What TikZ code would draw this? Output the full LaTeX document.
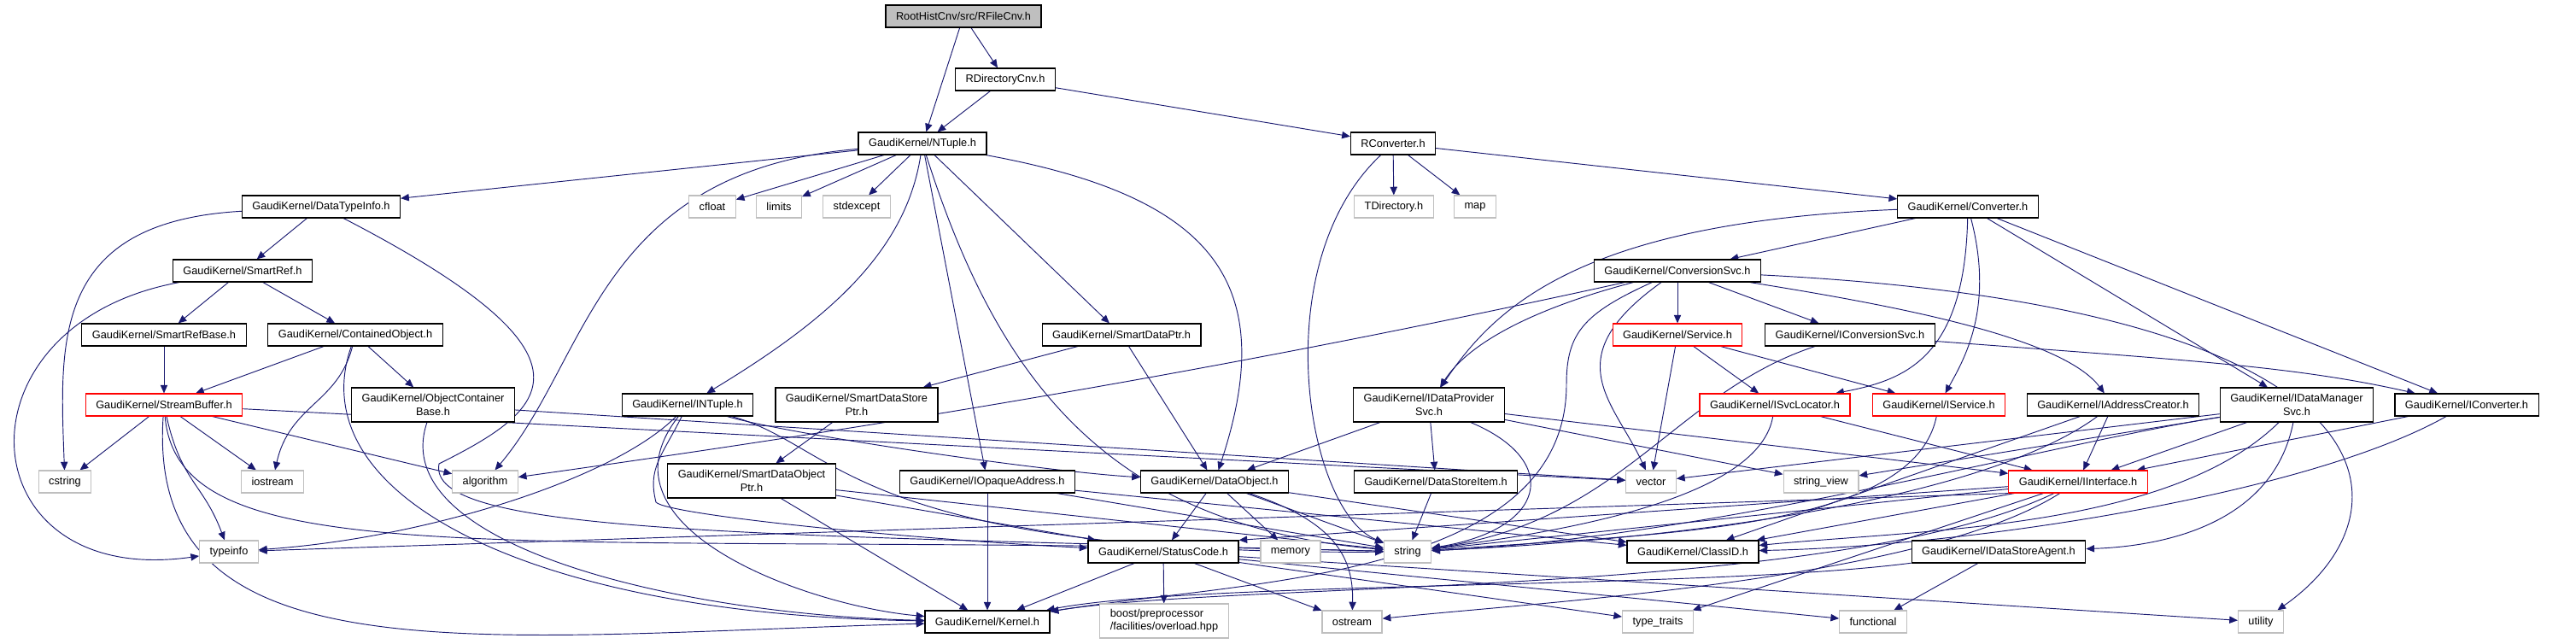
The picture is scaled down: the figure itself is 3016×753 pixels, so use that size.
\documentclass[tikz,border=0pt]{standalone}
\usepackage{fontspec}
\setmainfont{Liberation Sans}
\usepackage{tikz}
\usetikzlibrary{arrows.meta,backgrounds}
\definecolor{edgeblue}{RGB}{25,25,112}
\definecolor{sysgray}{RGB}{191,191,191}

\begin{document}
\begin{tikzpicture}[x=0.03cm, y=-0.03cm, align=center,
    font=\fontsize{10.9}{13}\selectfont,
    >={Triangle[length=2.9mm,width=2.5mm]},
    hdr/.style={draw=black, line width=1pt, fill=white, minimum height=0.78cm, inner xsep=0.36cm, inner ysep=0pt},
    tall/.style={minimum height=1.2cm},
    redhdr/.style={hdr, draw=red},
    syshdr/.style={hdr, draw=sysgray},
    roothdr/.style={hdr, fill=sysgray},
    inc/.style={->, edgeblue, line width=0.8pt}]
    \path[use as bounding box] (0,0) rectangle (3016,753);

    \node [roothdr] (rfilecnv) at (1128,19) {RootHistCnv/src/RFileCnv.h};
    \node [hdr] (rdircnv) at (1177,93) {RDirectoryCnv.h};
    \node [hdr] (ntuple) at (1080,168) {GaudiKernel/NTuple.h};
    \node [hdr] (rconverter) at (1631,168) {RConverter.h};

    \node [hdr] (dtinfo) at (376,242) {GaudiKernel/DataTypeInfo.h};
    \node [syshdr] (cfloat) at (834,242) {cfloat};
    \node [syshdr] (limits) at (912,242) {limits};
    \node [syshdr] (stdexcept) at (1003,242) {stdexcept};
    \node [syshdr] (tdir) at (1632,242) {TDirectory.h};
    \node [syshdr] (map) at (1727,242) {map};
    \node [hdr] (converter) at (2304,242) {GaudiKernel/Converter.h};

    \node [hdr] (smartref) at (284,317) {GaudiKernel/SmartRef.h};
    \node [hdr] (convsvc) at (1964,317) {GaudiKernel/ConversionSvc.h};

    \node [hdr] (smartrefbase) at (192,392) {GaudiKernel/SmartRefBase.h};
    \node [hdr] (contained) at (416,392) {GaudiKernel/ContainedObject.h};
    \node [hdr] (smartdataptr) at (1313,392) {GaudiKernel/SmartDataPtr.h};
    \node [redhdr] (service) at (1964,392) {GaudiKernel/Service.h};
    \node [hdr] (iconvsvc) at (2166,392) {GaudiKernel/IConversionSvc.h};

    \node [redhdr] (streambuf) at (192,474) {GaudiKernel/StreamBuffer.h};
    \node [hdr, tall] (objcont) at (507,474) {GaudiKernel/ObjectContainer\\Base.h};
    \node [hdr] (intuple) at (805,474) {GaudiKernel/INTuple.h};
    \node [hdr, tall] (sdstoreptr) at (1003,474) {GaudiKernel/SmartDataStore\\Ptr.h};
    \node [hdr, tall] (idataprov) at (1673,474) {GaudiKernel/IDataProvider\\Svc.h};
    \node [redhdr] (isvcloc) at (2078,474) {GaudiKernel/ISvcLocator.h};
    \node [redhdr] (iservice) at (2270,474) {GaudiKernel/IService.h};
    \node [hdr] (iaddrcreator) at (2474,474) {GaudiKernel/IAddressCreator.h};
    \node [hdr, tall] (idatamgr) at (2689,474) {GaudiKernel/IDataManager\\Svc.h};
    \node [hdr] (iconverter) at (2888,474) {GaudiKernel/IConverter.h};

    \node [syshdr] (cstring) at (76,564) {cstring};
    \node [syshdr] (iostream) at (319,564) {iostream};
    \node [syshdr] (algorithm) at (568,564) {algorithm};
    \node [hdr, tall] (sdobjptr) at (880,563) {GaudiKernel/SmartDataObject\\Ptr.h};
    \node [hdr] (iopaque) at (1156,564) {GaudiKernel/IOpaqueAddress.h};
    \node [hdr] (dataobject) at (1422,564) {GaudiKernel/DataObject.h};
    \node [hdr] (dsitem) at (1681,564) {GaudiKernel/DataStoreItem.h};
    \node [syshdr] (vector) at (1933,564) {vector};
    \node [syshdr] (stringview) at (2132,564) {string\_view};
    \node [redhdr] (iinterface) at (2433,564) {GaudiKernel/IInterface.h};

    \node [syshdr] (typeinfo) at (268,646) {typeinfo};
    \node [hdr] (statuscode) at (1362,646) {GaudiKernel/StatusCode.h};
    \node [syshdr] (memory) at (1511,646) {memory};
    \node [syshdr] (string) at (1648,646) {string};
    \node [hdr] (classid) at (1982,646) {GaudiKernel/ClassID.h};
    \node [hdr] (dsagent) at (2340,646) {GaudiKernel/IDataStoreAgent.h};

    \node [hdr] (kernel) at (1156,728) {GaudiKernel/Kernel.h};
    \node [syshdr, tall, align=left] (boost) at (1363,727) {boost/preprocessor\\/facilities/overload.hpp};
    \node [syshdr] (ostream) at (1583,728) {ostream};
    \node [syshdr] (typetraits) at (1941,728) {type\_traits};
    \node [syshdr] (functional) at (2193,728) {functional};
    \node [syshdr] (utility) at (2647,728) {utility};

    \begin{scope}[on background layer]
    \draw[inc] (rfilecnv) -- (ntuple);
    \draw[inc] (rfilecnv) -- (rdircnv);
    \draw[inc] (rdircnv) -- (ntuple);
    \draw[inc] (rdircnv) -- (rconverter);

    \draw[inc] (ntuple) -- (dtinfo);
    \draw[inc] (ntuple) .. controls +(-380,32) and +(122,-144) .. (algorithm);
    \draw[inc] (ntuple) -- (cfloat);
    \draw[inc] (ntuple) -- (limits);
    \draw[inc] (ntuple) -- (stdexcept);
    \draw[inc] (ntuple) .. controls +(-20,132) and +(155,-94) .. (intuple);
    \draw[inc] (ntuple) -- (iopaque);
    \draw[inc] (ntuple) .. controls +(90,282) and +(-348,-31) .. (string);
    \draw[inc] (ntuple) -- (smartdataptr);
    \draw[inc] (ntuple) .. controls +(340,62) and +(78,-234) .. (dataobject);

    \draw[inc] (rconverter) -- (tdir);
    \draw[inc] (rconverter) -- (map);
    \draw[inc] (rconverter) -- (converter);
    \draw[inc] (rconverter) .. controls +(-151,142) and +(-118,-46) .. (string);

    \draw[inc] (dtinfo) -- (smartref);
    \draw[inc] (dtinfo) .. controls +(-316,18) and +(-6,-164) .. (cstring);
    \draw[inc] (dtinfo) .. controls +(344,178) and +(126,-63) .. (514,543) .. controls +(-15,80) and +(-800,-20) .. (string);

    \draw[inc] (smartref) -- (smartrefbase);
    \draw[inc] (smartref) -- (contained);
    \draw[inc] (smartref) .. controls +(-344,63) and +(-308,44) .. (typeinfo);

    \draw[inc] (smartrefbase) -- (streambuf);

    \draw[inc] (contained) -- (streambuf);
    \draw[inc] (contained) .. controls +(-20,80) and +(20,-90) .. (iostream);
    \draw[inc] (contained) -- (objcont);
    \draw[inc] (contained) .. controls +(-66,188) and +(-536,-8) .. (kernel);

    \draw[inc] (streambuf) -- (cstring);
    \draw[inc] (streambuf) -- (iostream);
    \draw[inc] (streambuf) .. controls +(20,90) and +(-30,-80) .. (typeinfo);
    \draw[inc] (streambuf) -- (algorithm);
    \draw[inc] (streambuf) -- (vector);
    \draw[inc] (streambuf) .. controls +(18,206) and +(-1048,-26) .. (string);
    \draw[inc] (streambuf) .. controls +(-22,326) and +(-596,17) .. (kernel);

    \draw[inc] (objcont) .. controls +(-57,166) and +(-356,-8) .. (kernel);
    \draw[inc] (objcont) -- (vector);

    \draw[inc] (intuple) .. controls +(-85,86) and +(232,-16) .. (typeinfo);
    \draw[inc] (intuple) .. controls +(-115,146) and +(-206,-18) .. (kernel);
    \draw[inc] (intuple) .. controls +(-30,60) and +(-10,-40) .. (768,588) .. controls +(15,15) and +(-300,-15) .. (statuscode);
    \draw[inc] (intuple) .. controls +(175,46) and +(-648,4) .. (string);
    \draw[inc] (intuple) .. controls +(120,35) and +(-200,-12) .. (dataobject);

    \draw[inc] (sdstoreptr) -- (sdobjptr);
    \draw[inc] (smartdataptr) -- (sdstoreptr);
    \draw[inc] (smartdataptr) -- (dataobject);

    \draw[inc] (sdobjptr) -- (kernel);
    \draw[inc] (sdobjptr) -- (statuscode);
    \draw[inc] (sdobjptr) -- (string);

    \draw[inc] (iopaque) -- (kernel);
    \draw[inc] (iopaque) -- (string);
    \draw[inc] (iopaque) -- (classid);

    \draw[inc] (dataobject) -- (statuscode);
    \draw[inc] (dataobject) -- (memory);
    \draw[inc] (dataobject) -- (string);
    \draw[inc] (dataobject) .. controls +(138,46) and +(2,-78) .. (ostream);
    \draw[inc] (dataobject) -- (classid);

    \draw[inc] (statuscode) -- (kernel);
    \draw[inc] (statuscode) -- (boost);
    \draw[inc] (statuscode) -- (ostream);
    \draw[inc] (statuscode) -- (typetraits);
    \draw[inc] (statuscode) -- (functional);
    \draw[inc] (statuscode) -- (utility);

    \draw[inc] (converter) -- (convsvc);
    \draw[inc] (converter) .. controls +(-454,18) and +(77,-114) .. (idataprov);
    \draw[inc] (converter) .. controls +(-4,178) and +(152,-29) .. (isvcloc);
    \draw[inc] (converter) .. controls +(31,118) and +(30,-54) .. (iservice);
    \draw[inc] (converter) -- (idatamgr);
    \draw[inc] (converter) -- (iconverter);

    \draw[inc] (convsvc) -- (service);
    \draw[inc] (convsvc) -- (iconvsvc);
    \draw[inc] (convsvc) .. controls +(-164,43) and +(47,-74) .. (idataprov);
    \draw[inc] (convsvc) .. controls +(-500,110) and +(500,-70) .. (algorithm);
    \draw[inc] (convsvc) .. controls +(-144,103) and +(-43,-94) .. (vector);
    \draw[inc] (convsvc) .. controls +(-110,50) and +(0,-60) .. (1834,450) .. controls +(0,230) and +(294,-48) .. (kernel);
    \draw[inc] (convsvc) .. controls +(250,40) and +(-60,-80) .. (iaddrcreator);
    \draw[inc] (convsvc) .. controls +(856,43) and +(183,-128) .. (utility);

    \draw[inc] (service) -- (vector);
    \draw[inc] (service) -- (isvcloc);
    \draw[inc] (service) -- (iservice);

    \draw[inc] (iconvsvc) .. controls +(400,30) and +(-200,-45) .. (iconverter);
    \draw[inc] (iconvsvc) .. controls +(-206,68) and +(252,-36) .. (string);

    \draw[inc] (idataprov) -- (dsitem);
    \draw[inc] (idataprov) .. controls +(157,66) and +(162,-26) .. (string);
    \draw[inc] (idataprov) -- (dataobject);
    \draw[inc] (idataprov) -- (stringview);
    \draw[inc] (idataprov) -- (iinterface);

    \draw[inc] (dsitem) -- (string);

    \draw[inc] (isvcloc) -- (iinterface);
    \draw[inc] (isvcloc) .. controls +(-18,106) and +(202,-26) .. (string);

    \draw[inc] (iservice) .. controls +(-30,146) and +(302,-21) .. (string);

    \draw[inc] (iaddrcreator) -- (iinterface);
    \draw[inc] (iaddrcreator) .. controls +(-144,106) and +(352,-16) .. (string);
    \draw[inc] (iaddrcreator) -- (classid);

    \draw[inc] (idatamgr) -- (iinterface);
    \draw[inc] (idatamgr) -- (vector);
    \draw[inc] (idatamgr) -- (stringview);
    \draw[inc] (idatamgr) .. controls +(-289,46) and +(352,-16) .. (string);
    \draw[inc] (idatamgr) .. controls +(-149,146) and +(268,-26) .. (classid);
    \draw[inc] (idatamgr) .. controls +(-29,146) and +(180,-6) .. (dsagent);

    \draw[inc] (iconverter) -- (iinterface);
    \draw[inc] (iconverter) .. controls +(-188,106) and +(318,-6) .. (classid);

    \draw[inc] (iinterface.south west) -- (typeinfo);
    \draw[inc] (iinterface) -- (string);
    \draw[inc] (iinterface) -- (classid);
    \draw[inc] (iinterface) -- (statuscode.north east);
    \draw[inc] (iinterface) .. controls +(-283,136) and +(294,-48) .. (kernel);
    \draw[inc] (iinterface) .. controls +(-183,116) and +(217,-23) .. (ostream);
    \draw[inc] (iinterface) -- (typetraits);

    \draw[inc] (dsagent) -- (functional);
    \draw[inc] (dsagent) .. controls +(-340,44) and +(244,-48) .. (kernel);
    \end{scope}
\end{tikzpicture}
\end{document}
